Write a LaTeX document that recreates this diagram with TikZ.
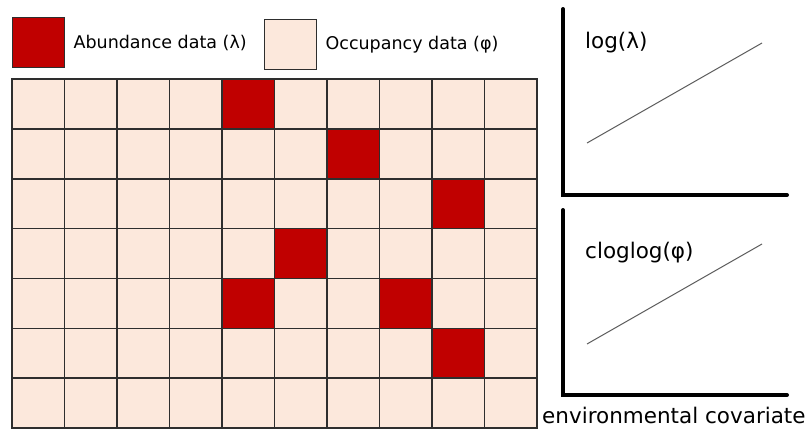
\documentclass[tikz,border=0pt]{standalone}
\usepackage{fontspec}
\setmainfont{DejaVu Sans}
\usepackage{xcolor}
\definecolor{cAbund}{HTML}{C00000}
\definecolor{cOccup}{HTML}{FCE8DC}
\definecolor{cGrid}{HTML}{2E2E2E}
\usepackage{tikz}
\usetikzlibrary{positioning}

\begin{document}
\begin{tikzpicture}[x=1pt, y=-1pt,
    cell/.style={draw=cGrid, line width=1.6pt, fill=cOccup},
    hit/.style={cell, fill=cAbund},
    keybox/.style={draw=cGrid, line width=1.4pt, anchor=north west,
                   minimum width=52pt, minimum height=50pt, inner sep=0pt},
    axis/.style={line width=4pt, line cap=round},
    trend/.style={draw=black!65, line width=1pt},
    lbl/.style={anchor=base west, inner sep=0pt, font=\fontsize{21.5}{24}\selectfont},
    key/.style={inner sep=0pt, font=\fontsize{17.5}{20}\selectfont},
    node distance=8pt
]
\useasboundingbox (0,0) rectangle (811,429);

% legend
\node[keybox, fill=cAbund] (abundkey) at (12,17) {};
\node[key, right=of abundkey] (abund) {Abundance data (λ)};
\node[keybox, fill=cOccup] (occupkey) at (264,19) {};
\node[key, right=of occupkey] (occup) {Occupancy data (φ)};

% survey grid
\foreach \c in {0,...,9}
  \foreach \r in {0,...,6}
    \draw[cell] ({12+52.5*\c},{79+49.86*\r}) rectangle ++(52.5,49.86);
\foreach \c/\r in {4/0, 6/1, 8/2, 5/3, 4/4, 7/4, 8/5}
  \draw[hit] ({12+52.5*\c},{79+49.86*\r}) rectangle ++(52.5,49.86);

% log(lambda) panel
\coordinate (ytopA) at (563,9);
\coordinate (orgA) at (563,195);
\coordinate (xendA) at (787,195);
\draw[axis] (ytopA) -- (orgA) -- (xendA);
\coordinate (lowA) at (587,143);
\coordinate (highA) at (762,43);
\draw[trend] (lowA) -- (highA);
\node[lbl] (loglam) at (585,48) {log(λ)};

% cloglog(phi) panel
\coordinate (ytopB) at (563,210);
\coordinate (orgB) at (563,395);
\coordinate (xendB) at (787,395);
\draw[axis] (ytopB) -- (orgB) -- (xendB);
\coordinate (lowB) at (587,344);
\coordinate (highB) at (762,244);
\draw[trend] (lowB) -- (highB);
\node[lbl] (cloglog) at (585,258) {cloglog(φ)};

\node[lbl] (covar) at (542,423) {environmental covariate};
\end{tikzpicture}
\end{document}
